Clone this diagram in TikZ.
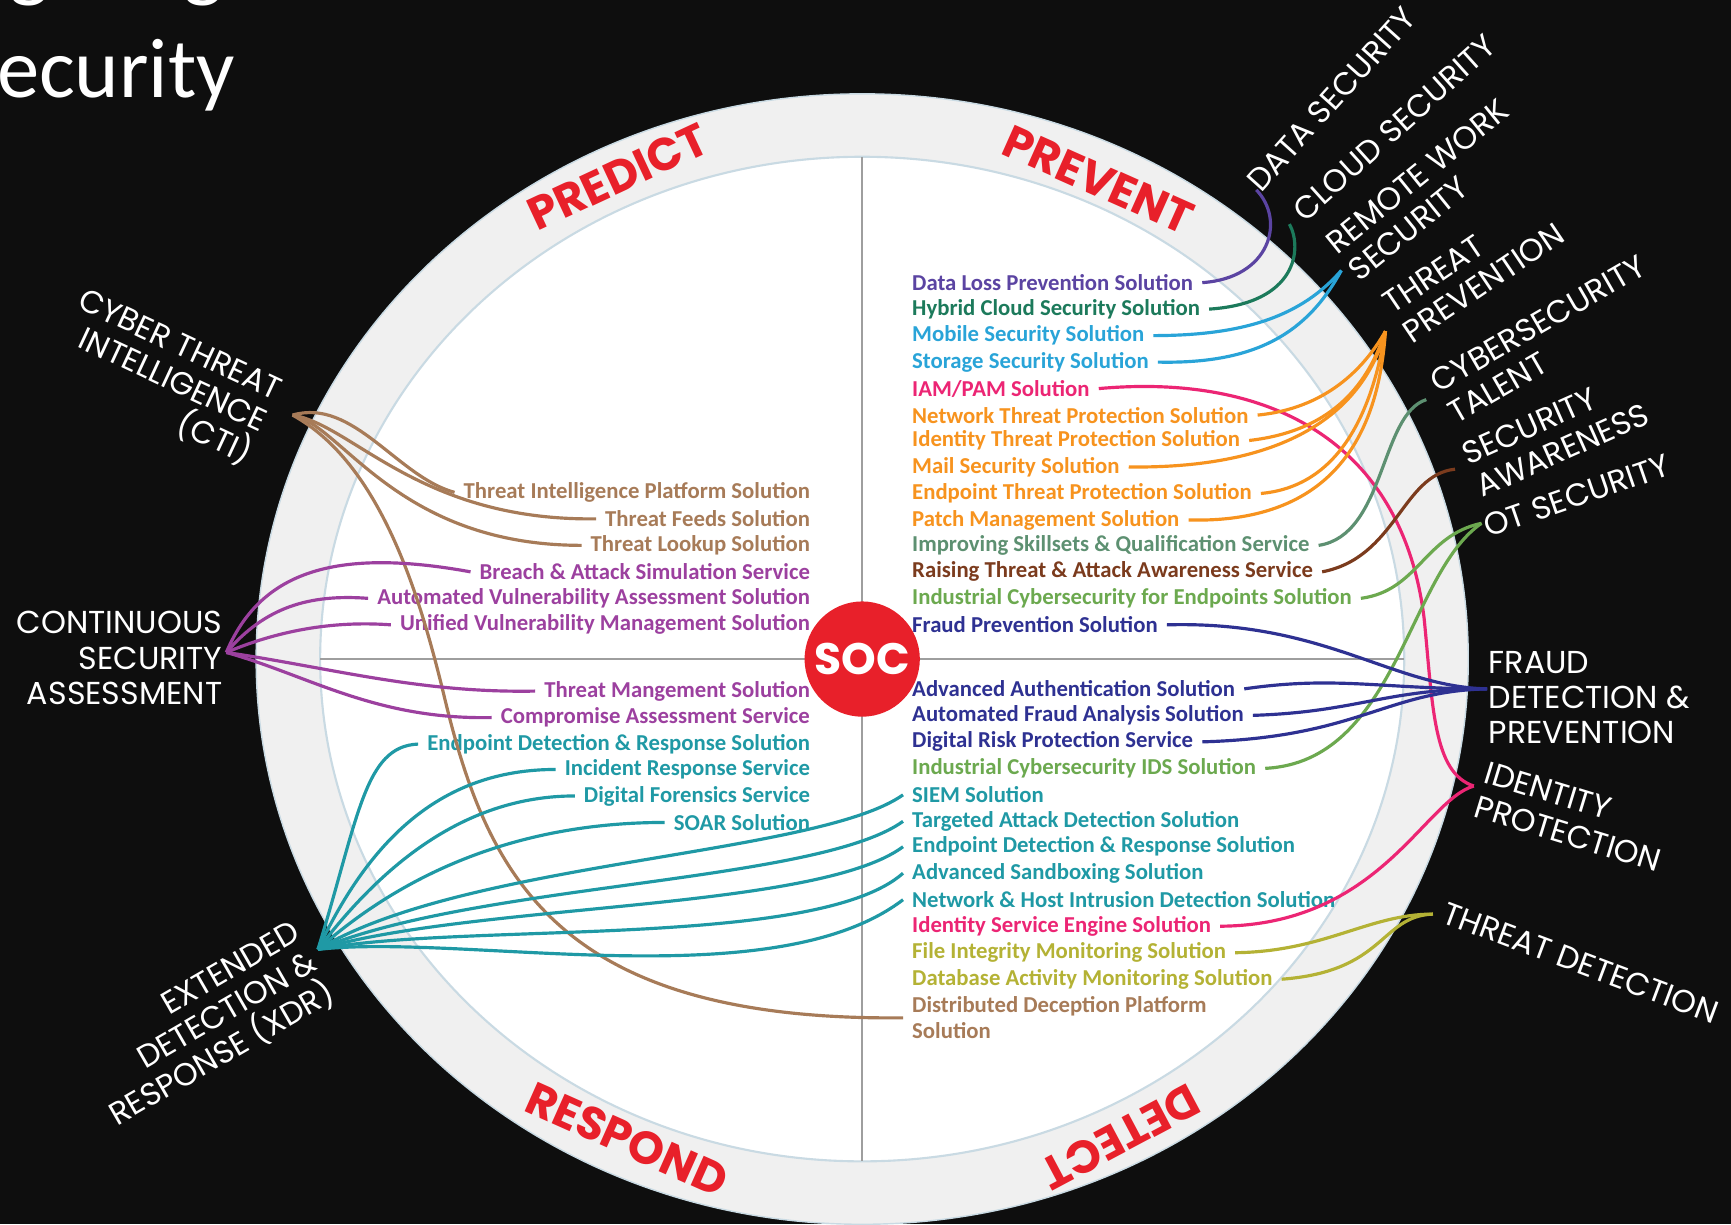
\documentclass[tikz,border=0pt]{standalone}
\usepackage{fontspec}
\setmainfont{Carlito}
\newfontfamily\capfont{Poppins}

\definecolor{bgdark}{HTML}{0E0E0E}
\definecolor{ringgray}{HTML}{F0F0F0}
\definecolor{ringedge}{HTML}{C9DAE3}
\definecolor{axisgray}{HTML}{9E9E9E}
\definecolor{socred}{HTML}{E8202A}
\definecolor{ctibrown}{HTML}{A77B58}
\definecolor{csapurple}{HTML}{9C409F}
\definecolor{xdrteal}{HTML}{1F99A5}
\definecolor{dataviolet}{HTML}{5B44A2}
\definecolor{cloudgreen}{HTML}{1C7A5B}
\definecolor{remoteblue}{HTML}{29A4D8}
\definecolor{idpink}{HTML}{EC2574}
\definecolor{tporange}{HTML}{F7931E}
\definecolor{talentgreen}{HTML}{5D9071}
\definecolor{awarebrown}{HTML}{7B3B1D}
\definecolor{otgreen}{HTML}{6CA94F}
\definecolor{fraudnavy}{HTML}{2E3192}
\definecolor{tdolive}{HTML}{B4B235}

\tikzset{
  sol/.style={font=\fontsize{12.9}{15}\selectfont\bfseries, inner xsep=5pt, inner ysep=1pt, align=left},
  outlabel/.style={text=white, font=\capfont\fontsize{18}{20}\selectfont},
  phase/.style={text=socred, font=\capfont\bfseries\fontsize{26}{30}\selectfont},
  wire/.style={line width=1.8pt},
}

\begin{document}
\begin{tikzpicture}[x=0.022cm, y=-0.022cm]

\fill[bgdark] (0,0) rectangle (1568,1109);
\useasboundingbox (0,0) rectangle (1568,1109);

% slide title
\node[text=white, font=\fontsize{48}{52}\selectfont, anchor=base west, inner sep=0pt] (title) at (-3,88) {ecurity};
\node[text=white, font=\fontsize{48}{52}\selectfont, anchor=base west, inner sep=0pt] (titleg1) at (8,-8) {g};
\node[text=white, font=\fontsize{48}{52}\selectfont, anchor=base west, inner sep=0pt] (titleg2) at (166,-8) {g};

% wheel
\coordinate (centre) at (781,597);
\filldraw[fill=ringgray, draw=ringedge, line width=0.8pt] (centre) ellipse [x radius=549, y radius=512];
\filldraw[fill=white, draw=ringedge, line width=1.2pt] (centre) ellipse [x radius=491, y radius=455];
\draw[axisgray, line width=1.2pt] (781,142) -- (781,1052);
\draw[axisgray, line width=1.2pt] (290,597) -- (1272,597);
\node[circle, fill=socred, minimum size=2.07cm, text=white, font=\capfont\bfseries\fontsize{25}{28}\selectfont] (soc) at (centre) {SOC};

\node[phase, rotate=25] (predict) at (560,160) {PREDICT};
\node[phase, rotate=-24] (prevent) at (995,163) {PREVENT};
\node[phase, rotate=-24] (respond) at (568,1032) {RESPOND};
\node[phase, rotate=208] (detect) at (1015,1030) {DETECT};

% hubs
\coordinate (ctihub) at (265,376);
\coordinate (csahub) at (205,591);
\coordinate (xdrhub) at (288,860);
\coordinate (datahub) at (1138,172);
\coordinate (cloudhub) at (1168,203);
\coordinate (remotehub) at (1215,245);
\coordinate (tphub) at (1255,300);
\coordinate (talenthub) at (1292,362);
\coordinate (awarehub) at (1318,425);
\coordinate (othub) at (1342,474);
\coordinate (fraudhub) at (1347,624);
\coordinate (idhub) at (1335,712);
\coordinate (tdhub) at (1298,828);

% captions
\node[outlabel, rotate=-25, align=right] (cti) at (149,343) {CYBER THREAT\\INTELLIGENCE\\(CTI)};
\node[outlabel, anchor=east, align=right] (csa) at (207,596) {CONTINUOUS\\SECURITY\\ASSESSMENT};
\node[outlabel, rotate=30, align=right] (xdr) at (186,929) {EXTENDED\\DETECTION \&\\RESPONSE (XDR)};
\node[outlabel, rotate=48] (datasec) at (1206,90) {DATA SECURITY};
\node[outlabel, rotate=42] (cloudsec) at (1263,116) {CLOUD SECURITY};
\node[outlabel, rotate=39, align=left] (remote) at (1294,172) {REMOTE WORK\\SECURITY};
\node[outlabel, rotate=34, align=left] (tprev) at (1335,243) {THREAT\\PREVENTION};
\node[outlabel, rotate=30, align=left] (talent) at (1401,307) {CYBERSECURITY\\TALENT};
\node[outlabel, rotate=24, align=left] (aware) at (1409,393) {SECURITY\\AWARENESS};
\node[outlabel, rotate=19] (otsec) at (1428,449) {OT SECURITY};
\node[outlabel, anchor=west, align=left] (fraud) at (1343,632) {FRAUD\\DETECTION \&\\PREVENTION};
\node[outlabel, rotate=-17, align=left] (idprot) at (1425,740) {IDENTITY\\PROTECTION};
\node[outlabel, rotate=-20.5] (tdetect) at (1432,872) {THREAT DETECTION};

% left column
\node[sol, anchor=east, text=ctibrown] (tip) at (742,446) {Threat Intelligence Platform Solution};
\node[sol, anchor=east, text=ctibrown] (feeds) at (742,470) {Threat Feeds Solution};
\node[sol, anchor=east, text=ctibrown] (lookup) at (742,494) {Threat Lookup Solution};
\node[sol, anchor=east, text=csapurple] (bas) at (742,518) {Breach \& Attack Simulation Service};
\node[sol, anchor=east, text=csapurple] (avas) at (742,542) {Automated Vulnerability Assessment Solution};
\node[sol, anchor=east, text=csapurple] (uvms) at (742,566) {Unified Vulnerability Management Solution};
\node[sol, anchor=east, text=csapurple] (tms) at (742,626) {Threat Mangement Solution};
\node[sol, anchor=east, text=csapurple] (cas) at (742,650) {Compromise Assessment Service};
\node[sol, anchor=east, text=xdrteal] (edrl) at (742,674) {Endpoint Detection \& Response Solution};
\node[sol, anchor=east, text=xdrteal] (irs) at (742,697) {Incident Response Service};
\node[sol, anchor=east, text=xdrteal] (dfs) at (742,721) {Digital Forensics Service};
\node[sol, anchor=east, text=xdrteal] (soar) at (742,745) {SOAR Solution};

% right column
\node[sol, anchor=west, text=dataviolet] (dlp) at (818,256) {Data Loss Prevention Solution};
\node[sol, anchor=west, text=cloudgreen] (hcs) at (818,280) {Hybrid Cloud Security Solution};
\node[sol, anchor=west, text=remoteblue] (mss) at (818,304) {Mobile Security Solution};
\node[sol, anchor=west, text=remoteblue] (sss) at (818,328) {Storage Security Solution};
\node[sol, anchor=west, text=idpink] (iam) at (818,352) {IAM/PAM Solution};
\node[sol, anchor=west, text=tporange] (ntp) at (818,376) {Network Threat Protection Solution};
\node[sol, anchor=west, text=tporange] (itp) at (818,399) {Identity Threat Protection Solution};
\node[sol, anchor=west, text=tporange] (mail) at (818,423) {Mail Security Solution};
\node[sol, anchor=west, text=tporange] (etp) at (818,447) {Endpoint Threat Protection Solution};
\node[sol, anchor=west, text=tporange] (patch) at (818,471) {Patch Management Solution};
\node[sol, anchor=west, text=talentgreen] (iss) at (818,494) {Improving Skillsets \& Qualification Service};
\node[sol, anchor=west, text=awarebrown] (rta) at (818,518) {Raising Threat \& Attack Awareness Service};
\node[sol, anchor=west, text=otgreen] (ice) at (818,542) {Industrial Cybersecurity for Endpoints Solution};
\node[sol, anchor=west, text=fraudnavy] (fps) at (818,566) {Fraud Prevention Solution};
\node[sol, anchor=west, text=fraudnavy] (aas) at (818,624) {Advanced Authentication Solution};
\node[sol, anchor=west, text=fraudnavy] (afa) at (818,648) {Automated Fraud Analysis Solution};
\node[sol, anchor=west, text=fraudnavy] (drp) at (818,672) {Digital Risk Protection Service};
\node[sol, anchor=west, text=otgreen] (ids) at (818,696) {Industrial Cybersecurity IDS Solution};
\node[sol, anchor=west, text=xdrteal] (siem) at (818,720) {SIEM Solution};
\node[sol, anchor=west, text=xdrteal] (tad) at (818,744) {Targeted Attack Detection Solution};
\node[sol, anchor=west, text=xdrteal] (edrr) at (818,767) {Endpoint Detection \& Response Solution};
\node[sol, anchor=west, text=xdrteal] (asb) at (818,791) {Advanced Sandboxing Solution};
\node[sol, anchor=west, text=xdrteal] (nhid) at (818,815) {Network \& Host Intrusion Detection Solution};
\node[sol, anchor=west, text=idpink] (ise) at (818,839) {Identity Service Engine Solution};
\node[sol, anchor=west, text=tdolive] (fim) at (818,863) {File Integrity Monitoring Solution};
\node[sol, anchor=west, text=tdolive] (dam) at (818,887) {Database Activity Monitoring Solution};
\node[sol, anchor=west, text=ctibrown] (ddp) at (818,922) {Distributed Deception Platform\\Solution};

% wires, left
\draw[wire, ctibrown] (ctihub) .. controls (320,360) and (360,432) .. (tip.west);
\draw[wire, ctibrown] (ctihub) .. controls (320,385) and (380,472) .. (feeds.west);
\draw[wire, ctibrown] (ctihub) .. controls (310,385) and (360,494) .. (lookup.west);
\draw[wire, ctibrown] (ctihub) .. controls (345,420) and (380,540) .. (401,625) .. controls (440,790) and (500,925) .. (ddp.west);

\draw[wire, csapurple] (csahub) .. controls (235,520) and (300,495) .. (bas.west);
\draw[wire, csapurple] (csahub) .. controls (240,550) and (280,538) .. (avas.west);
\draw[wire, csapurple] (csahub) .. controls (250,572) and (300,562) .. (uvms.west);
\draw[wire, csapurple] (csahub) .. controls (300,605) and (380,628) .. (tms.west);
\draw[wire, csapurple] (csahub) .. controls (280,612) and (340,652) .. (cas.west);

\draw[wire, xdrteal] (xdrhub) .. controls (325,740) and (330,676) .. (edrl.west);
\draw[wire, xdrteal] (xdrhub) .. controls (335,760) and (400,697) .. (irs.west);
\draw[wire, xdrteal] (xdrhub) .. controls (345,785) and (420,721) .. (dfs.west);
\draw[wire, xdrteal] (xdrhub) .. controls (350,805) and (450,745) .. (soar.west);
\draw[wire, xdrteal] (xdrhub) .. controls (420,780) and (740,775) .. (siem.west);
\draw[wire, xdrteal] (xdrhub) .. controls (430,800) and (740,800) .. (tad.west);
\draw[wire, xdrteal] (xdrhub) .. controls (430,818) and (740,825) .. (edrr.west);
\draw[wire, xdrteal] (xdrhub) .. controls (420,835) and (740,860) .. (asb.west);
\draw[wire, xdrteal] (xdrhub) .. controls (420,845) and (700,905) .. (nhid.west);

% wires, right
\draw[wire, dataviolet] (dlp.east) .. controls (1150,252) and (1165,200) .. (datahub);
\draw[wire, cloudgreen] (hcs.east) .. controls (1175,275) and (1180,225) .. (cloudhub);
\draw[wire, remoteblue] (mss.east) .. controls (1130,304) and (1180,285) .. (remotehub);
\draw[wire, remoteblue] (sss.east) .. controls (1140,330) and (1185,300) .. (remotehub);
\draw[wire, idpink] (iam.east) .. controls (1150,338) and (1270,400) .. (1290,560) .. controls (1298,640) and (1298,700) .. (idhub);
\draw[wire, idpink] (ise.east) .. controls (1250,838) and (1290,725) .. (idhub);
\draw[wire, tporange] (ntp.east) .. controls (1200,370) and (1235,335) .. (tphub);
\draw[wire, tporange] (itp.east) .. controls (1210,390) and (1240,345) .. (tphub);
\draw[wire, tporange] (mail.east) .. controls (1190,425) and (1240,355) .. (tphub);
\draw[wire, tporange] (etp.east) .. controls (1220,440) and (1245,360) .. (tphub);
\draw[wire, tporange] (patch.east) .. controls (1225,475) and (1250,370) .. (tphub);
\draw[wire, talentgreen] (iss.east) .. controls (1255,485) and (1250,375) .. (talenthub);
\draw[wire, awarebrown] (rta.east) .. controls (1265,505) and (1270,430) .. (awarehub);
\draw[wire, otgreen] (ice.east) .. controls (1285,535) and (1290,485) .. (othub);
\draw[wire, otgreen] (ids.east) .. controls (1265,690) and (1275,520) .. (othub);
\draw[wire, fraudnavy] (fps.east) .. controls (1200,562) and (1260,622) .. (fraudhub);
\draw[wire, fraudnavy] (aas.east) .. controls (1210,612) and (1250,624) .. (fraudhub);
\draw[wire, fraudnavy] (afa.east) .. controls (1230,645) and (1255,624) .. (fraudhub);
\draw[wire, fraudnavy] (drp.east) .. controls (1230,668) and (1255,626) .. (fraudhub);
\draw[wire, tdolive] (fim.east) .. controls (1200,862) and (1240,828) .. (tdhub);
\draw[wire, tdolive] (dam.east) .. controls (1255,880) and (1250,830) .. (tdhub);

\end{tikzpicture}
\end{document}
